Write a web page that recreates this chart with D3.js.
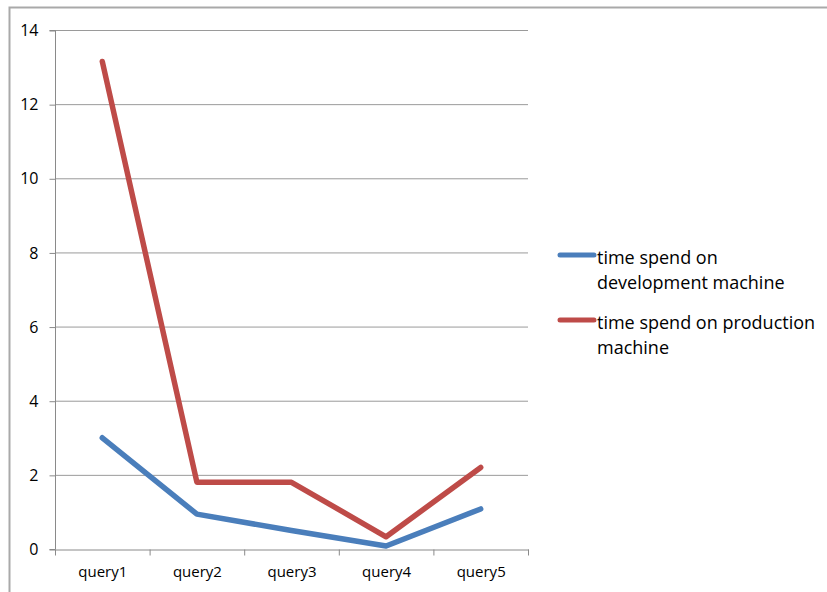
<!DOCTYPE html>
<html>
<head>
<meta charset="utf-8">
<script src="https://cdn.jsdelivr.net/npm/d3@7"></script>
<style>
body { margin: 0; background: #fff; }
svg { display: block; }
</style>
</head>
<body>
<svg id="chart" width="827" height="592"></svg>
<script>
const categories = ["query1", "query2", "query3", "query4", "query5"];
const devValues = [3.0, 0.94, 0.5, 0.08, 1.08];
const prodValues = [13.15, 1.8, 1.8, 0.33, 2.2];
const seriesNames = ["time spend on development machine", "time spend on production machine"];
const legendLines = [["time spend on", "development machine"], ["time spend on production", "machine"]];
const yTicks = [0, 2, 4, 6, 8, 10, 12, 14];

(function () {
const colors = ["#4a7ebb", "#be4b48"];
const svg = d3.select("#chart");
const font = "'Open Sans', 'Noto Sans', 'DejaVu Sans', sans-serif";

// outer frame
svg.append("path").attr("d", "M9.5,600 V7.5 H830").attr("fill", "none")
  .attr("stroke", "#a9a9a9").attr("stroke-width", 2);

const pLeft = 55, pRight = 528, pTop = 30, pBottom = 549;
const x = d3.scaleBand().domain(categories).range([pLeft, pRight]);
const y = d3.scaleLinear().domain([0, 14]).range([pBottom, pTop]);

// gridlines
svg.append("g").selectAll("line").data(yTicks.filter(d => d > 0)).join("line")
  .attr("x1", pLeft).attr("x2", pRight)
  .attr("y1", d => y(d) + 0.5).attr("y2", d => y(d) + 0.5)
  .attr("stroke", "#9a9a9a").attr("stroke-width", 1);

// y axis
const yAxis = svg.append("g").attr("transform", `translate(${pLeft + 0.5},0.5)`)
  .call(d3.axisLeft(y).tickValues(yTicks).tickSize(6).tickPadding(11));
yAxis.select(".domain").attr("stroke", "#8a8a8a").attr("d", `M-6,${pBottom}H0V${pTop}H-6`);
yAxis.selectAll(".tick line").attr("stroke", "#8a8a8a");
yAxis.selectAll("text").attr("font-family", font).attr("font-size", 16).attr("fill", "#000");

// x axis
const xAxis = svg.append("g").attr("transform", `translate(0.5,${pBottom + 0.5})`)
  .call(d3.axisBottom(x).tickSize(0).tickPadding(17));
xAxis.select(".domain").attr("stroke", "#8a8a8a");
xAxis.selectAll("text").attr("font-family", font).attr("font-size", 15).attr("fill", "#000");
const bounds = categories.map(c => x(c)).concat([pRight]);
xAxis.append("g").selectAll("line").data(bounds).join("line")
  .attr("x1", d => d).attr("x2", d => d).attr("y1", 0).attr("y2", 6)
  .attr("stroke", "#8a8a8a");

// lines
const line = d3.line().x((d, i) => x(categories[i]) + x.bandwidth() / 2).y(d => y(d));
[devValues, prodValues].forEach((vals, i) => {
  svg.append("path").datum(vals).attr("d", line)
    .attr("fill", "none").attr("stroke", colors[i]).attr("stroke-width", 5.5)
    .attr("stroke-linejoin", "round").attr("stroke-linecap", "round");
});

// legend
const lg = svg.append("g");
const legendY = [255, 320];
legendLines.forEach((lines, i) => {
  lg.append("line").attr("x1", 560).attr("x2", 594)
    .attr("y1", legendY[i]).attr("y2", legendY[i])
    .attr("stroke", colors[i]).attr("stroke-width", 5).attr("stroke-linecap", "round");
  const t = lg.append("text").attr("x", 597).attr("y", legendY[i] + 9)
    .attr("font-family", font).attr("font-size", 18).attr("fill", "#000");
  lines.forEach((s, j) => {
    t.append("tspan").attr("x", 597).attr("dy", j === 0 ? 0 : 25).text(s);
  });
});
})();
</script>
</body>
</html>
